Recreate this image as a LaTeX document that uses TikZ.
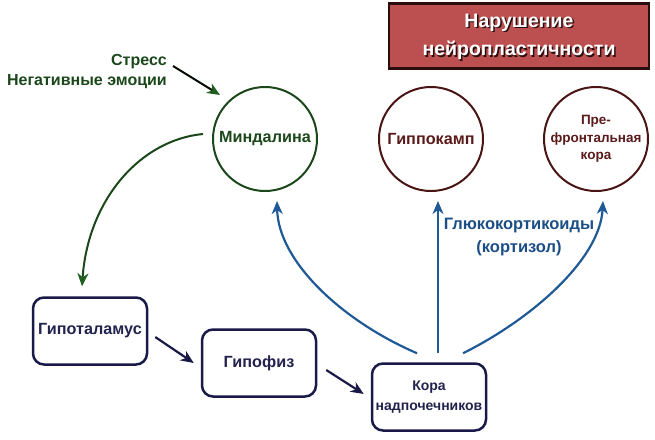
\documentclass[tikz,border=0pt]{standalone}
\usepackage{fontspec}
\setmainfont{Liberation Sans}
\usetikzlibrary{arrows.meta,calc}
\definecolor{grn}{HTML}{1B471B}
\definecolor{grnhead}{HTML}{1F6020}
\definecolor{mar}{HTML}{4A1414}
\definecolor{martext}{HTML}{5A1A1A}
\definecolor{nav}{HTML}{1A1A48}
\definecolor{navtext}{HTML}{22224E}
\definecolor{blu}{HTML}{1F5A96}
\definecolor{blutext}{HTML}{1C4E86}
\definecolor{titfill}{HTML}{BC5050}
\definecolor{titline}{HTML}{2A0E0E}
\tikzset{
  txt/.style={font=\fontsize{16}{19}\selectfont\bfseries, align=center, inner sep=0pt},
  circ/.style={circle, minimum size=104pt, line width=2pt, inner sep=0pt, align=center},
  greencirc/.style={circ, draw=grn, text=grn, font=\fontsize{16.2}{19}\selectfont\bfseries},
  redcirc/.style={circ, draw=mar, text=martext, font=\fontsize{16.2}{19}\selectfont\bfseries},
  boxnode/.style={draw=nav, text=navtext, line width=2.5pt, rounded corners=11pt,
    minimum width=114pt, minimum height=67pt, inner sep=0pt, align=center,
    font=\fontsize{16.2}{19}\selectfont\bfseries},
  tip/.style={-{Stealth[length=13pt,width=11pt,inset=4pt]}},
  greenarrow/.style={tip, line width=2pt, draw=grn},
  navarrow/.style={tip, line width=2.2pt, draw=nav},
  bluearrow/.style={tip, line width=2.2pt, draw=blu},
}
\begin{document}
\begin{tikzpicture}[x=1pt,y=-1pt]
\useasboundingbox (0,0) rectangle (655,439);
% title
\node[draw=titline, line width=2.5pt, fill=titfill, minimum width=260pt, minimum height=65pt] (title) at (519,36) {};
\node[txt, text=titline, font=\fontsize{19.5}{28.5}\selectfont\bfseries] (titleshadow) at (520.5,38.5) {Нарушение\\нейропластичности};
\node[txt, text=white, font=\fontsize{19.5}{28.5}\selectfont\bfseries] (titletext) at (519,37) {Нарушение\\нейропластичности};
% circles
\node[greencirc] (m) at (265,139) {Миндалина};
\node[redcirc] (h) at (431,139) {Гиппокамп};
\node[redcirc, font=\fontsize{13.5}{17.5}\selectfont\bfseries] (p) at (596,139) {Пре-\\фронтальная\\кора};
% boxes
\node[boxnode] (hyp) at (90,331) {Гипоталамус};
\node[boxnode] (gip) at (259,363) {Гипофиз};
\node[boxnode, font=\fontsize{14}{19.5}\selectfont\bfseries] (kora) at (429,397) {Кора\\надпочечников};
% stress label
\node[txt, text=grn, anchor=east, align=right, font=\fontsize{16}{20}\selectfont\bfseries] (stress) at (167,72) {Стресс\\Негативные эмоции};
\coordinate (sa) at (173,66);
\draw[line width=2pt, draw=black!85!grn, -{Stealth[length=13pt,width=11pt,inset=4pt,color=grnhead]}] (sa) -- ($(m.center)+(-45,-44)$);
% green curve
\draw[greenarrow, -{Stealth[length=13pt,width=11pt,inset=4pt,color=grnhead]}] ($(m.west)+(-9,-5)$) .. controls (140,140) and (88,200) .. ($(hyp.north)+(-8,-10)$);
% nav arrows
\draw[navarrow] ($(hyp.east)+(7,6)$) -- ($(gip.west)+(-7,0)$);
\draw[navarrow] ($(gip.east)+(9,7)$) -- ($(kora.west)+(-7,-3)$);
% blue arrows
\draw[bluearrow] ($(kora.north)+(-12,-9)$) .. controls (340,320) and (278,260) .. ($(m.south)+(12,9)$);
\draw[bluearrow] ($(kora.north)+(9,-9)$) -- ($(h.south)+(7,9)$);
\draw[bluearrow] ($(kora.north)+(34,-9)$) .. controls (530,320) and (600,260) .. ($(p.south)+(7,9)$);
\node[txt, text=blutext, font=\fontsize{16.5}{23}\selectfont\bfseries] (gluco) at (519,237) {Глюкокортикоиды\\(кортизол)};
\end{tikzpicture}
\end{document}
